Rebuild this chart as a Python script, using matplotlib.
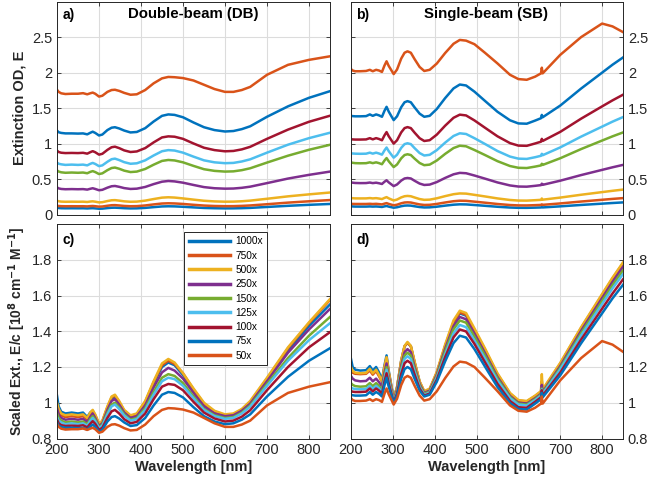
import numpy as np
import matplotlib
matplotlib.use("Agg")
import matplotlib.pyplot as plt
from matplotlib.ticker import FuncFormatter

plt.rcParams['font.family'] = ['Liberation Sans', 'DejaVu Sans']

# dilution factors and legend labels (legend order)
dilutions = [1000, 750, 500, 250, 150, 125, 100, 75, 50]
labels = ['1000x', '750x', '500x', '250x', '150x', '125x', '100x', '75x', '50x']
colors = ['#0072BD', '#D95319', '#EDB120', '#7E2F8E', '#77AC30',
          '#4DBEEE', '#A2142F', '#0072BD', '#D95319']

# Double-beam: scaled extinction E/c
wl_db = [200, 204, 210, 220, 235, 250, 262, 272, 279, 285, 291, 300, 308, 320, 330, 338, 348, 360, 375,
         390, 410, 430, 450, 465, 480, 500, 525, 550, 575, 600, 620, 640, 660, 700, 750, 800, 850]
db_1000 = [1.04, 0.98, 0.95, 0.94, 0.945, 0.94, 0.945, 0.92, 0.945, 0.955, 0.93, 0.88, 0.895, 0.97, 1.02, 1.03,
           1.0, 0.955, 0.925, 0.935, 1.0, 1.105, 1.2, 1.225, 1.21, 1.155, 1.07, 0.99, 0.95, 0.93, 0.935, 0.96,
           1.0, 1.13, 1.29, 1.43, 1.55]
db_750 = [0.97, 0.95, 0.93, 0.92, 0.925, 0.92, 0.925, 0.907, 0.935, 0.95, 0.927, 0.88, 0.895, 0.975, 1.03, 1.04,
          1.005, 0.955, 0.925, 0.935, 1.005, 1.115, 1.21, 1.235, 1.217, 1.165, 1.075, 0.995, 0.95, 0.93, 0.935,
          0.962, 1.005, 1.135, 1.305, 1.445, 1.575]
db_500 = [1.0, 0.965, 0.94, 0.93, 0.935, 0.93, 0.935, 0.915, 0.945, 0.96, 0.935, 0.885, 0.9, 0.98, 1.035, 1.045,
          1.01, 0.96, 0.93, 0.94, 1.01, 1.12, 1.22, 1.245, 1.225, 1.165, 1.08, 1.0, 0.955, 0.935, 0.94, 0.965,
          1.01, 1.14, 1.31, 1.45, 1.58]
db_250 = [0.97, 0.935, 0.915, 0.905, 0.91, 0.905, 0.91, 0.892, 0.92, 0.94, 0.915, 0.87, 0.885, 0.96, 1.01, 1.02,
          0.99, 0.945, 0.915, 0.925, 0.985, 1.085, 1.17, 1.195, 1.18, 1.135, 1.055, 0.98, 0.94, 0.925, 0.93,
          0.955, 0.995, 1.12, 1.28, 1.41, 1.525]
db_150 = [0.94, 0.915, 0.9, 0.89, 0.895, 0.89, 0.895, 0.88, 0.908, 0.925, 0.905, 0.863, 0.878, 0.945, 0.99, 1.0,
          0.975, 0.935, 0.905, 0.915, 0.97, 1.06, 1.14, 1.16, 1.15, 1.11, 1.035, 0.965, 0.93, 0.915, 0.92,
          0.945, 0.985, 1.105, 1.25, 1.375, 1.48]
db_125 = [0.92, 0.9, 0.89, 0.88, 0.885, 0.88, 0.885, 0.872, 0.898, 0.915, 0.897, 0.858, 0.872, 0.935, 0.98, 0.99,
          0.965, 0.928, 0.9, 0.908, 0.96, 1.045, 1.12, 1.14, 1.132, 1.095, 1.025, 0.96, 0.925, 0.91, 0.915,
          0.94, 0.978, 1.095, 1.235, 1.35, 1.445]
db_100 = [0.905, 0.885, 0.875, 0.87, 0.872, 0.87, 0.874, 0.862, 0.882, 0.897, 0.882, 0.848, 0.86, 0.915, 0.952,
          0.96, 0.94, 0.908, 0.885, 0.893, 0.94, 1.02, 1.09, 1.105, 1.1, 1.07, 1.005, 0.945, 0.912, 0.895, 0.9,
          0.922, 0.958, 1.07, 1.2, 1.31, 1.395]
db_75 = [0.89, 0.872, 0.865, 0.86, 0.86, 0.858, 0.86, 0.85, 0.866, 0.878, 0.865, 0.838, 0.848, 0.895, 0.92, 0.925,
         0.912, 0.89, 0.87, 0.875, 0.915, 0.985, 1.045, 1.06, 1.055, 1.03, 0.975, 0.925, 0.895, 0.88, 0.885,
         0.905, 0.935, 1.035, 1.145, 1.235, 1.305]
db_50 = [0.88, 0.865, 0.855, 0.85, 0.852, 0.852, 0.856, 0.848, 0.855, 0.86, 0.852, 0.832, 0.838, 0.865, 0.878,
         0.88, 0.872, 0.858, 0.845, 0.848, 0.878, 0.925, 0.96, 0.97, 0.968, 0.962, 0.945, 0.915, 0.885, 0.865,
         0.865, 0.878, 0.9, 0.985, 1.055, 1.09, 1.115]

# Single-beam: scaled extinction E/c
wl_sb = [200, 204, 210, 222, 236, 245, 252, 260, 267, 274, 280, 285, 290, 296, 302, 310, 320, 328, 335, 343,
         352, 364, 375, 388, 405, 425, 445, 460, 475, 495, 520, 550, 580, 600, 620, 640, 654, 656, 658, 700,
         750, 800, 825, 850]
sb_1000 = [1.245, 1.2, 1.185, 1.18, 1.182, 1.205, 1.18, 1.2, 1.17, 1.13, 1.21, 1.265, 1.181, 1.102, 1.025, 1.087,
           1.236, 1.316, 1.335, 1.316, 1.226, 1.117, 1.062, 1.075, 1.167, 1.316, 1.447, 1.5, 1.487, 1.404, 1.294,
           1.157, 1.049, 1.01, 1.005, 1.035, 1.06, 1.1, 1.065, 1.215, 1.413, 1.595, 1.686, 1.77]
sb_750 = [1.18, 1.168, 1.162, 1.16, 1.162, 1.18, 1.157, 1.177, 1.148, 1.117, 1.197, 1.25, 1.171, 1.095, 1.022,
          1.085, 1.235, 1.316, 1.335, 1.316, 1.225, 1.115, 1.06, 1.073, 1.167, 1.318, 1.452, 1.505, 1.492, 1.407,
          1.298, 1.16, 1.051, 1.012, 1.007, 1.037, 1.062, 1.12, 1.07, 1.219, 1.419, 1.603, 1.696, 1.78]
sb_500 = [1.2, 1.178, 1.168, 1.165, 1.167, 1.19, 1.165, 1.185, 1.155, 1.12, 1.201, 1.255, 1.173, 1.096, 1.022,
          1.086, 1.236, 1.318, 1.34, 1.318, 1.23, 1.12, 1.065, 1.079, 1.173, 1.326, 1.461, 1.515, 1.502, 1.416,
          1.305, 1.165, 1.055, 1.015, 1.01, 1.04, 1.065, 1.16, 1.075, 1.223, 1.423, 1.608, 1.7, 1.785]
sb_250 = [1.15, 1.135, 1.125, 1.12, 1.122, 1.14, 1.12, 1.135, 1.115, 1.09, 1.168, 1.22, 1.148, 1.081, 1.015,
          1.072, 1.209, 1.283, 1.3, 1.283, 1.202, 1.104, 1.055, 1.068, 1.157, 1.302, 1.429, 1.48, 1.467, 1.387,
          1.278, 1.144, 1.038, 1.0, 0.995, 1.025, 1.05, 1.1, 1.06, 1.205, 1.403, 1.585, 1.676, 1.76]
sb_150 = [1.11, 1.1, 1.093, 1.09, 1.092, 1.11, 1.093, 1.11, 1.093, 1.07, 1.148, 1.2, 1.134, 1.071, 1.01, 1.064,
          1.194, 1.264, 1.28, 1.264, 1.188, 1.096, 1.05, 1.062, 1.148, 1.288, 1.411, 1.46, 1.448, 1.37, 1.265,
          1.135, 1.032, 0.995, 0.99, 1.02, 1.045, 1.08, 1.055, 1.196, 1.39, 1.569, 1.658, 1.74]
sb_125 = [1.085, 1.08, 1.077, 1.075, 1.077, 1.095, 1.078, 1.095, 1.08, 1.06, 1.135, 1.185, 1.123, 1.064, 1.007,
          1.058, 1.179, 1.245, 1.26, 1.245, 1.174, 1.088, 1.045, 1.057, 1.139, 1.271, 1.388, 1.435, 1.423, 1.349,
          1.248, 1.124, 1.026, 0.99, 0.985, 1.015, 1.04, 1.075, 1.05, 1.187, 1.377, 1.552, 1.64, 1.72]
sb_100 = [1.065, 1.062, 1.06, 1.06, 1.062, 1.08, 1.063, 1.08, 1.068, 1.05, 1.119, 1.165, 1.108, 1.055, 1.003,
          1.05, 1.161, 1.221, 1.235, 1.221, 1.157, 1.079, 1.04, 1.051, 1.129, 1.255, 1.366, 1.41, 1.399, 1.329,
          1.227, 1.106, 1.01, 0.975, 0.972, 1.005, 1.03, 1.07, 1.04, 1.168, 1.354, 1.526, 1.611, 1.69]
sb_75 = [1.045, 1.042, 1.04, 1.04, 1.042, 1.06, 1.045, 1.06, 1.05, 1.035, 1.098, 1.14, 1.091, 1.045, 1.0, 1.04,
         1.136, 1.188, 1.2, 1.188, 1.134, 1.068, 1.035, 1.045, 1.117, 1.232, 1.334, 1.375, 1.365, 1.3, 1.203,
         1.088, 0.998, 0.965, 0.962, 0.995, 1.02, 1.055, 1.03, 1.153, 1.333, 1.5, 1.584, 1.66]
sb_50 = [1.025, 1.015, 1.01, 1.01, 1.012, 1.02, 1.01, 1.02, 1.015, 1.005, 1.05, 1.08, 1.048, 1.019, 0.99, 1.022,
         1.099, 1.14, 1.15, 1.14, 1.095, 1.04, 1.012, 1.02, 1.064, 1.138, 1.203, 1.23, 1.225, 1.2, 1.14, 1.065,
         0.985, 0.955, 0.95, 0.972, 0.995, 1.035, 0.995, 1.125, 1.25, 1.345, 1.325, 1.285]

db_scaled = [db_1000, db_750, db_500, db_250, db_150, db_125, db_100, db_75, db_50]
sb_scaled = [sb_1000, sb_750, sb_500, sb_250, sb_150, sb_125, sb_100, sb_75, sb_50]

W, H = 648, 482
fig = plt.figure(figsize=(W / 100, H / 100), dpi=100)


def px_axes(x0, x1, y0, y1):
    return fig.add_axes([x0 / W, 1 - y1 / H, (x1 - x0) / W, (y1 - y0) / H])


ax_a = px_axes(57, 330, 1.5, 215)
ax_b = px_axes(351, 623, 1.5, 215)
ax_c = px_axes(57, 330, 224, 438.5)
ax_d = px_axes(351, 623, 224, 438.5)

fmt = FuncFormatter(lambda v, p: '%g' % round(v, 3))
dark = '#262626'

for ax in [ax_a, ax_b, ax_c, ax_d]:
    ax.set_xlim(200, 850)
    ax.set_xticks(range(200, 900, 100))
    ax.grid(True, color='#dcdcdc', linewidth=0.8)
    ax.set_axisbelow(True)
    ax.tick_params(direction='in', length=3, width=0.6, colors=dark,
                   labelsize=10.5, top=True, right=True)
    ax.yaxis.set_major_formatter(fmt)
    for s in ax.spines.values():
        s.set_color(dark)
        s.set_linewidth(0.7)

for ax in [ax_a, ax_b]:
    ax.set_ylim(0, 3)
    ax.set_yticks([0, 0.5, 1, 1.5, 2, 2.5])
    ax.tick_params(labelbottom=False)
for ax in [ax_c, ax_d]:
    ax.set_ylim(0.8, 2.0)
    ax.set_yticks([0.8, 1.0, 1.2, 1.4, 1.6, 1.8])
    ax.set_xlabel('Wavelength [nm]', fontsize=10.5, fontweight='bold', color=dark, labelpad=2)
for ax in [ax_b, ax_d]:
    ax.tick_params(labelleft=False, labelright=True)

# E = (E/c) * c, with c = 100 / dilution in the plotted units
for dil, lab, col, ys in zip(dilutions, labels, colors, db_scaled):
    ys = np.array(ys)
    ax_a.plot(wl_db, ys * 100 / dil, color=col, lw=1.8)
    ax_c.plot(wl_db, ys, color=col, lw=1.8, label=lab)
for dil, col, ys in zip(dilutions, colors, sb_scaled):
    ys = np.array(ys)
    ax_b.plot(wl_sb, ys * 100 / dil, color=col, lw=1.8)
    ax_d.plot(wl_sb, ys, color=col, lw=1.8)

ax_a.set_ylabel('Extinction OD, E', fontsize=10.5, fontweight='bold', color=dark, labelpad=4)
ax_c.set_ylabel('Scaled Ext., E/c [10$^{\\mathbf{8}}$ cm$^{\\mathbf{-1}}$ M$^{\\mathbf{-1}}$]',
                fontsize=10, fontweight='bold', color=dark, labelpad=3)

for ax, tag in [(ax_a, 'a)'), (ax_b, 'b)'), (ax_c, 'c)'), (ax_d, 'd)')]:
    ax.text(0.02, 0.935 if ax in (ax_a, ax_b) else 0.925, tag, transform=ax.transAxes,
            fontsize=10, fontweight='bold', va='center', ha='left', color='black')
ax_a.text(0.5, 0.94, 'Double-beam (DB)', transform=ax_a.transAxes, fontsize=10.8,
          fontweight='bold', ha='center', va='center')
ax_b.text(0.497, 0.94, 'Single-beam (SB)', transform=ax_b.transAxes, fontsize=10.8,
          fontweight='bold', ha='center', va='center')

leg = ax_c.legend(loc='upper left', bbox_to_anchor=(0.465, 0.963), borderaxespad=0,
                  fontsize=7.3, handlelength=4.1, labelspacing=0.42, borderpad=0.45,
                  handletextpad=0.5, fancybox=False, framealpha=1, edgecolor=dark)
leg.get_frame().set_linewidth(0.7)
for line in leg.get_lines():
    line.set_linewidth(2.5)

fig.savefig('out.png', dpi=100)
